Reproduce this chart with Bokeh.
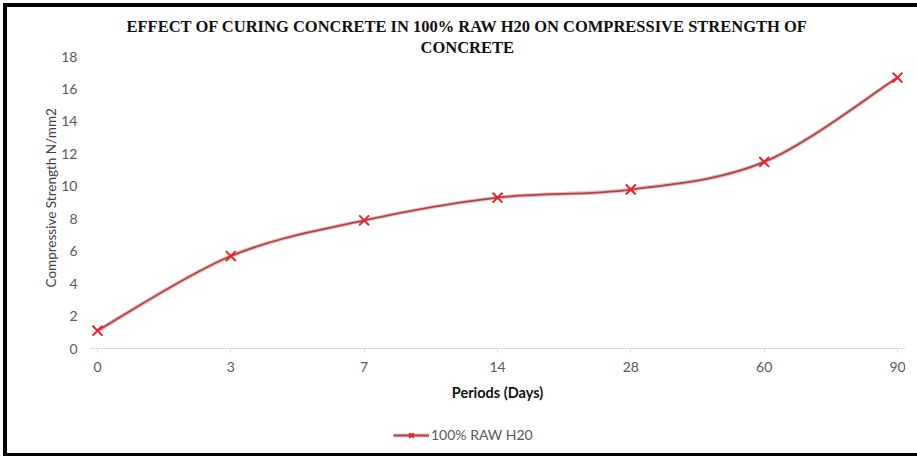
import numpy as np
from bokeh.plotting import figure
from bokeh.models import (Range1d, FixedTicker, Legend, LegendItem, Title)
from bokeh.embed import file_html
from bokeh.resources import INLINE

# Curing periods (categories) and measured compressive strength
periods = ["0", "3", "7", "14", "28", "60", "90"]
strength = [1.1, 5.7, 7.9, 9.3, 9.8, 11.5, 16.7]
y_ticks = [0, 2, 4, 6, 8, 10, 12, 14, 16, 18]
series_name = "100% RAW H20"
title_lines = ["EFFECT OF CURING CONCRETE IN 100% RAW H20 ON COMPRESSIVE STRENGTH OF",
               "CONCRETE"]
x_title = "Periods (Days)"
y_title = "Compressive Strength N/mm2"

pos = np.arange(len(periods), dtype=float)
val = np.array(strength, dtype=float)

# Smoothed curve: cubic Bezier segments with Catmull-Rom style control points
xp = np.concatenate([[pos[0]], pos, [pos[-1]]])
yp = np.concatenate([[val[0]], val, [val[-1]]])
x0, y0 = pos[:-1], val[:-1]
x1, y1 = pos[1:], val[1:]
cx0 = xp[1:-2] + (xp[2:-1] - xp[:-3]) / 6.0
cy0 = yp[1:-2] + (yp[2:-1] - yp[:-3]) / 6.0
cx1 = xp[2:-1] - (xp[3:] - xp[1:-2]) / 6.0
cy1 = yp[2:-1] - (yp[3:] - yp[1:-2]) / 6.0

label_font = "Lato"
W, H = 910, 446
TOP, BOTTOM = 49, 0
# the frame runs below y=0 so the legend fits under the x axis
px_per_unit = 292 / 18
y_low = -(H - TOP - BOTTOM - 292) / px_per_unit

p = figure(
    width=W, height=H,
    x_range=Range1d(-0.06, 6.06), y_range=Range1d(y_low, 18),
    output_backend="svg", toolbar_location=None,
    min_border_left=82, min_border_right=12,
    min_border_top=TOP, min_border_bottom=BOTTOM,
    background_fill_color="white", border_fill_color="white",
    outline_line_color=None,
    # black frame round the chart, drawn outside the canvas
    styles={
        "margin-left": "7px", "margin-top": "7px",
        "box-shadow": "0 0 0 4px black",
    },
)

p.xgrid.visible = False
p.ygrid.visible = False

# x axis drawn at y = 0, labelled by curing period
xa = p.xaxis[0]
xa.fixed_location = 0
xa.ticker = FixedTicker(ticks=list(pos))
xa.major_label_overrides = {int(i): s for i, s in enumerate(periods)}
xa.minor_tick_line_color = None
xa.axis_line_color = "#D9D9D9"
xa.major_tick_line_color = "#D9D9D9"
xa.major_tick_in = 0
xa.major_tick_out = 4
xa.major_label_standoff = 9
xa.major_label_text_font = label_font
xa.major_label_text_font_size = "14px"
xa.major_label_text_color = "#595959"
xa.axis_label = x_title
xa.axis_label_text_font = label_font
xa.axis_label_text_font_style = "bold"
xa.axis_label_text_font_size = "14.5px"
xa.axis_label_text_color = "#111111"
xa.axis_label_standoff = 9

ya = p.yaxis[0]
ya.ticker = FixedTicker(ticks=y_ticks)
ya.axis_line_color = None
ya.major_tick_line_color = None
ya.minor_tick_line_color = None
ya.major_label_standoff = 6
ya.major_label_text_font = label_font
ya.major_label_text_font_size = "14px"
ya.major_label_text_color = "#595959"

# y axis title, placed alongside the 0-18 span of the axis
p.add_layout(Title(text=y_title, align="left", offset=166, standoff=0,
                   text_font=label_font, text_font_style="normal",
                   text_font_size="13.5px", text_color="#404040"), "left")

# Two-line chart title; the line nearest the frame is added first
for line, offset in [(title_lines[1], 331), (title_lines[0], 37)]:
    p.add_layout(Title(text=line, align="left", offset=offset, standoff=0,
                       text_font="Liberation Serif", text_font_style="bold",
                       text_font_size="16.5px", text_color="#111111"), "above")

glow = p.bezier(x0=x0, y0=y0, x1=x1, y1=y1, cx0=cx0, cy0=cy0, cx1=cx1, cy1=cy1,
                line_color="#E7A3A3", line_width=4, line_alpha=0.7)
curve = p.bezier(x0=x0, y0=y0, x1=x1, y1=y1, cx0=cx0, cy0=cy0, cx1=cx1, cy1=cy1,
                 line_color="#A4474A", line_width=1.8)
marks = p.scatter(pos, val, marker="x", size=14, line_color="#E8242B", line_width=2)

legend = Legend(items=[LegendItem(label=series_name, renderers=[glow, curve, marks])],
                orientation="horizontal", location=(304, 10),
                border_line_color=None, background_fill_alpha=0,
                label_text_font=label_font, label_text_font_size="14px",
                label_text_color="#595959", glyph_width=36, glyph_height=16,
                label_standoff=2, margin=0, padding=4)
p.add_layout(legend, "center")

open("out.html", "w").write(file_html(p, INLINE))
